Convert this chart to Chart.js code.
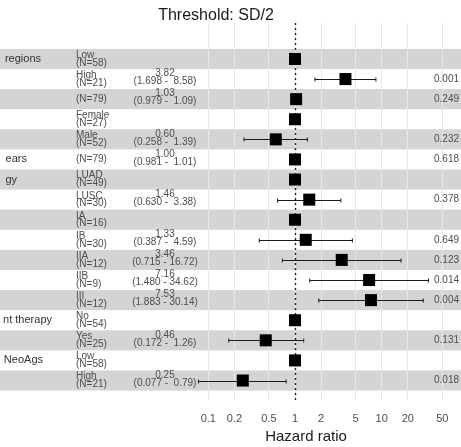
<!DOCTYPE html>
<html>
<head>
<meta charset="utf-8">
<script src="https://cdn.jsdelivr.net/npm/chart.js@4"></script>
<style>
html,body{margin:0;padding:0;background:#fff}
</style>
</head>
<body>
<canvas id="forest" width="461" height="447"></canvas>
<script>
// one entry per row, top to bottom
const varNames=['regions','','','','','ears','gy','','','','','','','nt therapy','','NeoAgs',''];
const levels=['Low','High','','Female','Male','','LUAD','LUSC','IA','IB','IIA','IIB','III','No','Yes','Low','High'];
const counts=[58,21,79,27,52,79,49,30,16,30,12,9,12,54,25,58,21];
const hr=[1,3.82,1.03,1,0.60,1.00,1,1.46,1,1.33,3.46,7.16,7.53,1,0.46,1,0.25];
const ciLow=[null,1.698,0.979,null,0.258,0.981,null,0.630,null,0.387,0.715,1.480,1.883,null,0.172,null,0.077];
const ciHigh=[null,8.58,1.09,null,1.39,1.01,null,3.38,null,4.59,16.72,34.62,30.14,null,1.26,null,0.79];
const pValues=['','0.001','0.249','','0.232','0.618','','0.378','','0.649','0.123','0.014','0.004','','0.131','','0.018'];
const xTicks=[0.1,0.2,0.5,1,2,5,10,20,50];

const FONT='"Liberation Sans", Arial, sans-serif';
const TXT='#4d4d4d';

const forestPlugin={
  id:'forest',
  beforeDraw(chart){
    // zebra bands across the whole width
    const {ctx,scales:{y}}=chart;
    ctx.save();
    ctx.fillStyle='#d4d4d4';
    levels.forEach((_,i)=>{
      if(i%2) return;
      const top=y.getPixelForValue(i-0.5), bot=y.getPixelForValue(i+0.5);
      ctx.fillRect(0,top,chart.width,bot-top);
    });
    ctx.restore();
  },
  beforeDatasetsDraw(chart){
    const {ctx,chartArea,scales:{x,y}}=chart;
    ctx.save();
    // reference line at HR = 1
    const x1=Math.round(x.getPixelForValue(1))+0.5;
    ctx.strokeStyle='#222';
    ctx.lineWidth=1.4;
    ctx.setLineDash([2,3]);
    ctx.beginPath();
    ctx.moveTo(x1,chartArea.top);
    ctx.lineTo(x1,chartArea.bottom);
    ctx.stroke();
    ctx.setLineDash([]);
    // confidence intervals
    ctx.strokeStyle='#1a1a1a';
    ctx.lineWidth=1;
    hr.forEach((_,i)=>{
      if(ciLow[i]==null) return;
      const yy=Math.round(y.getPixelForValue(i))+0.5;
      const a=x.getPixelForValue(ciLow[i]), b=x.getPixelForValue(ciHigh[i]);
      ctx.beginPath();
      ctx.moveTo(a,yy);ctx.lineTo(b,yy);
      ctx.moveTo(a,yy-2);ctx.lineTo(a,yy+2);
      ctx.moveTo(b,yy-2);ctx.lineTo(b,yy+2);
      ctx.stroke();
    });
    ctx.restore();
  },
  afterDraw(chart){
    const {ctx,scales:{y}}=chart;
    ctx.save();
    ctx.textBaseline='middle';
    // title
    ctx.fillStyle='#1a1a1a';
    ctx.font='16px '+FONT;
    ctx.textAlign='center';
    ctx.fillText('Threshold: SD/2',216,16);
    levels.forEach((lev,i)=>{
      const c=y.getPixelForValue(i);
      if(varNames[i]){
        ctx.fillStyle='#333';
        ctx.font='11px '+FONT;
        ctx.textAlign='right';
        const right={regions:41,ears:27,gy:17,'nt therapy':52,NeoAgs:43}[varNames[i]];
        ctx.fillText(varNames[i],right,c);
      }
      ctx.fillStyle=TXT;
      ctx.font='10px '+FONT;
      ctx.textAlign='left';
      const n='(N='+counts[i]+')';
      if(lev){
        ctx.fillText(lev,76,c-3.8);
        ctx.fillText(n,76,c+4);
      }else{
        ctx.fillText(n,76,c);
      }
      if(ciLow[i]!=null){
        ctx.textAlign='center';
        ctx.fillText(hr[i].toFixed(2),165,c-5.5);
        const ci='('+ciLow[i].toFixed(3)+' - '+ciHigh[i].toFixed(2).padStart(5,' ')+')';
        ctx.fillText(ci,165,c+2.5);
      }
      if(pValues[i]){
        ctx.textAlign='left';
        ctx.fillText(pValues[i],434,c);
      }
    });
    ctx.restore();
  }
};

new Chart(document.getElementById('forest'),{
  type:'scatter',
  data:{datasets:[{
    data:hr.map((v,i)=>({x:v,y:i})),
    pointStyle:'rect',
    pointRadius:8.5,
    pointHoverRadius:8.5,
    backgroundColor:'#000',
    borderWidth:0
  }]},
  options:{
    responsive:false,
    animation:false,
    devicePixelRatio:1,
    layout:{autoPadding:false,padding:{left:151,right:0,top:23,bottom:1}},
    plugins:{legend:{display:false},tooltip:{enabled:false}},
    scales:{
      x:{
        type:'logarithmic',
        min:0.02183,max:82.16,
        afterBuildTicks:s=>{s.ticks=xTicks.map(v=>({value:v}));},
        afterFit:s=>{s.height=46;s.paddingLeft=0;s.paddingRight=0;},
        ticks:{callback:v=>String(v),autoSkip:false,maxRotation:0,
          font:{family:FONT,size:11},color:TXT,padding:12},
        grid:{color:'#e8e8e8',drawTicks:false},
        border:{display:false},
        title:{display:true,text:'Hazard ratio',color:'#1a1a1a',
          font:{family:FONT,size:15},padding:{top:3,bottom:0}}
      },
      y:{type:'linear',reverse:true,min:-1.79,max:16.97,display:false}
    }
  },
  plugins:[forestPlugin]
});
</script>
</body>
</html>
